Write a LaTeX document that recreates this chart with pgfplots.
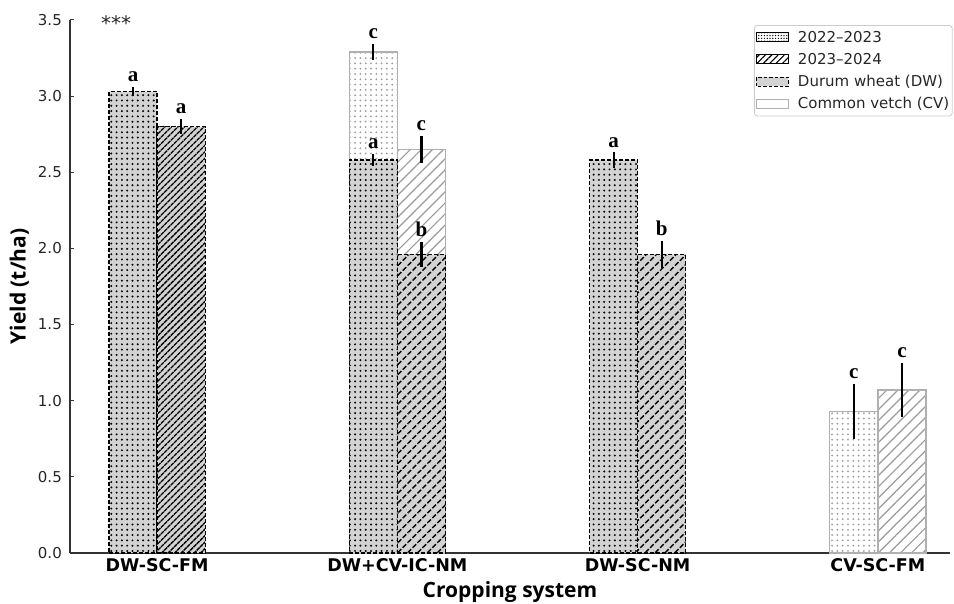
\documentclass[border=0pt]{standalone}
\usepackage{fontspec}
\setmainfont{DejaVu Sans}
\newfontfamily\opensans{Open Sans}
\newfontfamily\lserif{Liberation Serif}
\usepackage{pgfplots}
\pgfplotsset{compat=1.18}
\usetikzlibrary{patterns.meta}
\definecolor{dwfill}{HTML}{D3D3D3}
\definecolor{cvedge}{HTML}{B0B0B0}
\definecolor{cvpat}{HTML}{9A9A9A}
\definecolor{spine}{HTML}{333333}
\tikzset{
  dwbar/.style={preaction={fill=dwfill}, draw=black, dash pattern=on 4pt off 2pt, line width=1.2pt},
  cvbar/.style={preaction={fill=white}, draw=cvedge, line width=1.2pt},
}
\pgfplotsset{
  mybar/.style={ybar, bar width=0.2, bar shift=0pt,
    error bars/y dir=both, error bars/y explicit, error bars/error mark=none,
    error bars/error bar style={solid, draw=black, line width=2.2pt}},
}
\begin{document}
\begin{tikzpicture}
\begin{axis}[
  name=ax,
  scale only axis, width=880pt, height=533pt,
  xmin=-0.3625, xmax=3.3, ymin=0, ymax=3.5,
  axis x line*=bottom, axis y line*=left,
  axis line style={draw=spine, line width=1.3pt},
  ytick={0,0.5,1,1.5,2,2.5,3,3.5},
  xtick={0,1,2,3},
  xticklabels={DW-SC-FM, DW+CV-IC-NM, DW-SC-NM, CV-SC-FM},
  tick align=inside,
  major tick length=4pt,
  tick style={draw=spine, line width=1pt},
  yticklabel style={font=\fontsize{15}{18}\selectfont, text=black!85, anchor=east, inner sep=0pt, xshift=-8pt,
    /pgf/number format/.cd, fixed, fixed zerofill, precision=1, assume math mode=true},
  xticklabel style={font=\fontsize{17.5}{20}\selectfont\bfseries, anchor=north, inner sep=0pt, yshift=-5pt},
  xlabel={Cropping system},
  ylabel={Yield (t/ha)},
  xlabel style={font=\opensans\bfseries\fontsize{21}{24}\selectfont, at={(axis description cs:0.5,-0.0826)}, anchor=base, inner sep=0pt},
  ylabel style={font=\opensans\bfseries\fontsize{21}{24}\selectfont, at={(axis description cs:-0.0505,0.5)}, anchor=base, inner sep=0pt},
  clip=false,
  legend style={at={(1.003,0.9906)}, anchor=north east, draw=black!20, line width=0.8pt, rounded corners=3pt,
    font=\fontsize{15}{18}\selectfont, text=black!85, inner xsep=1.5pt, inner ysep=4pt, row sep=6.5pt,
    nodes={inner sep=1.5pt},
    /tikz/every odd column/.append style={column sep=7.5pt}},
  legend cell align=left,
]
% Common vetch (full height, underneath)
\addplot[mybar, cvbar, pattern={Dots[distance=5.3pt,radius=1pt]}, pattern color=cvpat, forget plot]
  coordinates {(0.9,3.29) +- (0,0.05) (2.9,0.93) +- (0,0.18)};
\addplot[mybar, cvbar, pattern={Lines[angle=45,distance=7.8pt,line width=1.2pt]}, pattern color=cvpat, forget plot]
  coordinates {(1.1,2.65) +- (0,0.09) (3.1,1.07) +- (0,0.18)};
% Durum wheat
\addplot[mybar, dwbar, pattern={Dots[distance=5.3pt,radius=1.1pt]}, pattern color=black, forget plot]
  coordinates {(-0.1,3.03) +- (0,0.03) (0.9,2.58) +- (0,0.04) (1.9,2.58) +- (0,0.05)};
\addplot[mybar, dwbar, pattern={Lines[angle=45,distance=4.6pt,line width=1.3pt]}, pattern color=black, forget plot]
  coordinates {(0.1,2.80) +- (0,0.05)};
\addplot[mybar, dwbar, pattern={Lines[angle=45,distance=7pt,line width=1.4pt]}, pattern color=black, forget plot]
  coordinates {(1.1,1.96) +- (0,0.08) (2.1,1.96) +- (0,0.09)};
% significance letters
\addplot[draw=none, mark=none, forget plot, nodes near coords, point meta=explicit symbolic,
  nodes near coords style={font=\lserif\bfseries\fontsize{21}{24}\selectfont, anchor=south, inner sep=0pt, yshift=5pt}]
  coordinates {(-0.1,3.06)[a] (0.1,2.85)[a] (0.9,3.34)[c] (0.9,2.62)[a] (1.1,2.74)[c] (1.1,2.04)[b]
               (1.9,2.63)[a] (2.1,2.05)[b] (2.9,1.11)[c] (3.1,1.25)[c]};
% legend
\addlegendimage{legend image code/.code={\draw[sharp corners, preaction={fill=white}, pattern={Dots[distance=2.8pt,radius=0.7pt]}, pattern color=black, draw=black, line width=1.1pt] (0pt,-4.5pt) rectangle (32pt,4.5pt);}}
\addlegendentry{2022--2023}
\addlegendimage{legend image code/.code={\draw[sharp corners, preaction={fill=white}, pattern={Lines[angle=45,distance=4.5pt,line width=1.1pt]}, pattern color=black, draw=black, line width=1.1pt] (0pt,-4.5pt) rectangle (32pt,4.5pt);}}
\addlegendentry{2023--2024}
\addlegendimage{legend image code/.code={\draw[sharp corners, fill=dwfill, draw=black, dash pattern=on 3.5pt off 2pt, line width=1.1pt] (0pt,-4.5pt) rectangle (32pt,4.5pt);}}
\addlegendentry{Durum wheat (DW)}
\addlegendimage{legend image code/.code={\draw[sharp corners, fill=white, draw=cvedge, line width=1.1pt] (0pt,-4.5pt) rectangle (32pt,4.5pt);}}
\addlegendentry{Common vetch (CV)}
\node[anchor=base west, inner sep=0pt, font=\fontsize{20}{24}\selectfont, text=black!85] at (axis description cs:0.0352,0.981) {***};
\end{axis}
\pgfresetboundingbox
\path (ax.south west) ++(-70pt,-51pt) rectangle ++(954pt,604pt);
\end{tikzpicture}
\end{document}
